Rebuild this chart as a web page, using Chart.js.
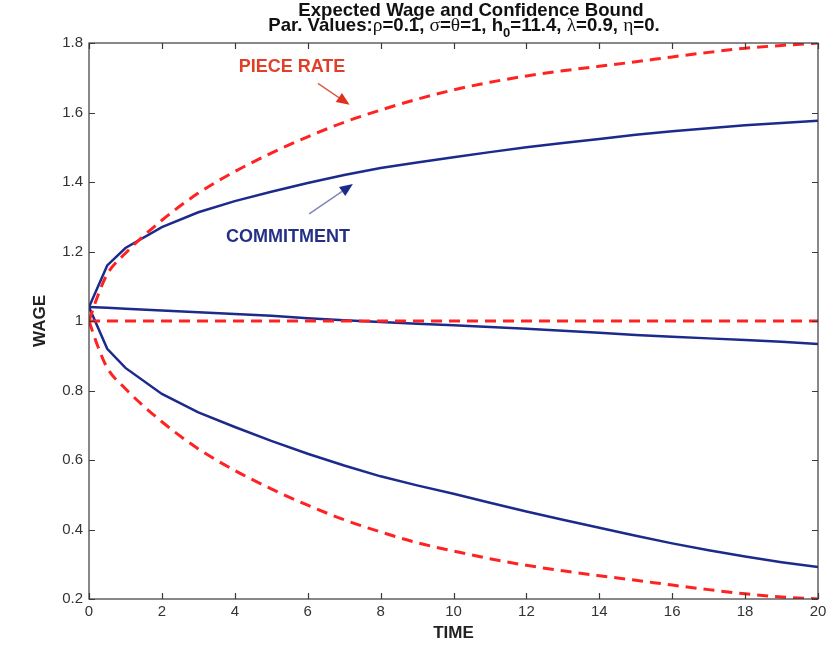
<!DOCTYPE html>
<html>
<head>
<meta charset="utf-8">
<script src="https://cdn.jsdelivr.net/npm/chart.js@4.4.1/dist/chart.umd.min.js"></script>
<style>
  body { margin: 0; background: #fff; }
  canvas { display: block; }
</style>
</head>
<body>
<canvas id="wageChart" width="838" height="649"></canvas>
<script>
// commitment contract: time grid + mean wage and bounds
const commitTime = [0, 0.5, 1, 2, 3, 4, 5, 6, 7, 8, 9, 10, 11, 12, 13, 14, 15, 16, 17, 18, 19, 20];
const commitUpper = [1.04, 1.16, 1.21, 1.27, 1.313, 1.345, 1.372, 1.397, 1.42, 1.44, 1.456, 1.471, 1.486, 1.5, 1.512, 1.524, 1.536, 1.546, 1.555, 1.563, 1.57, 1.576];
const commitMean = [1.04, 1.038, 1.035, 1.03, 1.025, 1.02, 1.015, 1.008, 1.002, 0.997, 0.992, 0.988, 0.983, 0.978, 0.972, 0.966, 0.96, 0.955, 0.95, 0.945, 0.94, 0.934];
const commitLower = [1.04, 0.92, 0.865, 0.79, 0.737, 0.695, 0.655, 0.618, 0.584, 0.553, 0.527, 0.503, 0.477, 0.452, 0.428, 0.405, 0.382, 0.36, 0.34, 0.322, 0.306, 0.292];

// piece rate contract
const pieceTime = [0, 0.25, 0.5, 1, 2, 3, 4, 5, 6, 7, 8, 9, 10, 11, 12, 13, 14, 15, 16, 17, 18, 19, 20];
const pieceUpper = [1.0, 1.075, 1.135, 1.195, 1.29, 1.368, 1.43, 1.483, 1.53, 1.572, 1.607, 1.638, 1.665, 1.687, 1.705, 1.72, 1.733, 1.746, 1.76, 1.773, 1.785, 1.793, 1.8];
const pieceMean = [1, 1, 1, 1, 1, 1, 1, 1, 1, 1, 1, 1, 1, 1, 1, 1, 1, 1, 1, 1, 1, 1, 1];
const pieceLower = [1.0, 0.925, 0.865, 0.805, 0.71, 0.632, 0.57, 0.517, 0.47, 0.428, 0.393, 0.362, 0.338, 0.316, 0.297, 0.281, 0.267, 0.254, 0.24, 0.227, 0.215, 0.206, 0.2];

const timeTicks = [0, 2, 4, 6, 8, 10, 12, 14, 16, 18, 20];
const wageTicks = [0.2, 0.4, 0.6, 0.8, 1, 1.2, 1.4, 1.6, 1.8];

const BLUE = "#1c2a8c";
const RED = "#ff2222";
const SANS = '"Liberation Sans", Arial, sans-serif';
const SERIF = '"Liberation Serif", "Times New Roman", serif';

const toPoints = (xs, ys) => xs.map((x, i) => ({ x: x, y: ys[i] }));

function commitLine(values) {
  return {
    data: toPoints(commitTime, values),
    borderColor: BLUE,
    borderWidth: 2.5,
    tension: 0,
  };
}
function pieceLine(values) {
  return {
    data: toPoints(pieceTime, values),
    borderColor: RED,
    borderWidth: 3,
    borderDash: [11, 7],
    cubicInterpolationMode: "monotone",
  };
}

// text labels with arrows, placed in data units
const notes = [
  { text: "PIECE RATE", at: [5.57, 1.731], from: [6.28, 1.684], to: [7.15, 1.622], color: "#e0402a", line: "#d9604c", head: "#e0301e" },
  { text: "COMMITMENT", at: [5.46, 1.242], from: [6.04, 1.308], to: [7.24, 1.394], color: "#243086", line: "#8087b5", head: "#1c2a8c" },
];

function arrow(ctx, x1, y1, x2, y2, lineColor, headColor) {
  const ang = Math.atan2(y2 - y1, x2 - x1);
  const len = 13, half = 5.5;
  const bx = x2 - len * Math.cos(ang), by = y2 - len * Math.sin(ang);
  ctx.strokeStyle = lineColor;
  ctx.lineWidth = 1.5;
  ctx.beginPath();
  ctx.moveTo(x1, y1);
  ctx.lineTo(bx, by);
  ctx.stroke();
  ctx.fillStyle = headColor;
  ctx.beginPath();
  ctx.moveTo(x2, y2);
  ctx.lineTo(bx + half * Math.sin(ang), by - half * Math.cos(ang));
  ctx.lineTo(bx - half * Math.sin(ang), by + half * Math.cos(ang));
  ctx.closePath();
  ctx.fill();
}

const framePlugin = {
  id: "frame",
  afterDraw(chart) {
    const { ctx, chartArea: a, scales: { x, y } } = chart;
    ctx.save();
    ctx.strokeStyle = "#3a3a3a";
    ctx.lineWidth = 1.2;
    ctx.strokeRect(a.left, a.top, a.right - a.left, a.bottom - a.top);
    ctx.beginPath();
    const tl = 6;
    timeTicks.forEach((v) => {
      const px = Math.round(x.getPixelForValue(v)) + 0.5;
      ctx.moveTo(px, a.bottom); ctx.lineTo(px, a.bottom - tl);
      ctx.moveTo(px, a.top); ctx.lineTo(px, a.top + tl);
    });
    wageTicks.forEach((v) => {
      const py = Math.round(y.getPixelForValue(v)) + 0.5;
      ctx.moveTo(a.left, py); ctx.lineTo(a.left + tl, py);
      ctx.moveTo(a.right, py); ctx.lineTo(a.right - tl, py);
    });
    ctx.stroke();

    // annotations
    ctx.font = "bold 18px " + SANS;
    ctx.textAlign = "center";
    ctx.textBaseline = "middle";
    notes.forEach((n) => {
      ctx.fillStyle = n.color;
      ctx.fillText(n.text, x.getPixelForValue(n.at[0]), y.getPixelForValue(n.at[1]));
      arrow(ctx,
        x.getPixelForValue(n.from[0]), y.getPixelForValue(n.from[1]),
        x.getPixelForValue(n.to[0]), y.getPixelForValue(n.to[1]),
        n.line, n.head);
    });

    // two-line title, second line mixes symbol glyphs and a subscript
    ctx.fillStyle = "#111";
    ctx.textBaseline = "alphabetic";
    ctx.textAlign = "left";
    const bold = "bold 18.6px " + SANS;
    ctx.font = bold;
    const t1 = "Expected Wage and Confidence Bound";
    ctx.fillText(t1, 471 - ctx.measureText(t1).width / 2, 16);

    const parts = [
      ["Par. Values:", "b"], ["\u03c1", "g"], ["=0.1, ", "b"], ["\u03c3", "g"], ["=", "b"], ["\u03b8", "g"],
      ["=1, h", "b"], ["0", "s"], ["=11.4, ", "b"], ["\u03bb", "g"], ["=0.9, ", "b"], ["\u03b7", "g"], ["=0.", "b"],
    ];
    const fontOf = (k) => (k === "b" ? bold : k === "g" ? "19.5px " + SERIF : "bold 13px " + SANS);
    let total = 0;
    parts.forEach(([s, k]) => { ctx.font = fontOf(k); total += ctx.measureText(s).width; });
    let cx = 464 - total / 2;
    parts.forEach(([s, k]) => {
      ctx.font = fontOf(k);
      ctx.fillText(s, cx, k === "s" ? 37 : 31);
      cx += ctx.measureText(s).width;
    });
    ctx.restore();
  },
};

const ctx = document.getElementById("wageChart").getContext("2d");
const wageChart = new Chart(ctx, {
  type: "line",
  data: {
    datasets: [
      pieceLine(pieceUpper),
      pieceLine(pieceMean),
      pieceLine(pieceLower),
      commitLine(commitUpper),
      commitLine(commitMean),
      commitLine(commitLower),
    ],
  },
  options: {
    responsive: false,
    animation: false,
    devicePixelRatio: 1,
    layout: { padding: { top: 43, right: 20, left: 0, bottom: 0 } },
    elements: { point: { radius: 0 } },
    plugins: { legend: { display: false }, tooltip: { enabled: false } },
    scales: {
      x: {
        type: "linear",
        min: 0,
        max: 20,
        grid: { display: false, drawTicks: false },
        border: { display: false },
        afterBuildTicks: (s) => { s.ticks = timeTicks.map((v) => ({ value: v })); },
        afterFit: (s) => { s.height = 50; },
        ticks: { color: "#333", font: { family: SANS, size: 15 }, padding: 4, maxRotation: 0 },
        title: { display: true, text: "TIME", color: "#222", font: { family: SANS, size: 17, weight: "bold" }, padding: { top: 0, bottom: 5 } },
      },
      y: {
        min: 0.2,
        max: 1.8,
        grid: { display: false, drawTicks: false },
        border: { display: false },
        afterBuildTicks: (s) => { s.ticks = wageTicks.map((v) => ({ value: v })); },
        afterFit: (s) => { s.width = 89; },
        ticks: { color: "#333", font: { family: SANS, size: 15 }, padding: 6, callback: (v) => String(+v.toFixed(1)) },
        title: { display: true, text: "WAGE", color: "#222", font: { family: SANS, size: 17, weight: "bold" }, padding: { top: 30, bottom: 0 } },
      },
    },
  },
  plugins: [framePlugin],
});
</script>
</body>
</html>
